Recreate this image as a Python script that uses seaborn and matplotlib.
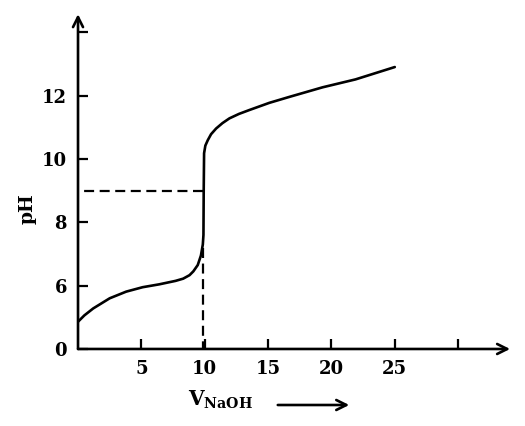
import matplotlib
matplotlib.use("Agg")
import matplotlib.pyplot as plt
import seaborn as sns

# titration curve (axis is broken: "0" sits where pH 4 would be)
v_naoh = [0, 0.5, 1.2, 2.5, 3.8, 5.1, 6.4, 7.7, 8.3, 8.8, 9.1, 9.45, 9.7, 9.85,
          9.9, 9.92, 9.95, 10.05, 10.24, 10.5, 10.9, 11.4, 11.95, 12.7, 13.5,
          15.1, 16.7, 19.3, 21.9, 25]
ph = [4.86, 5.06, 5.28, 5.6, 5.81, 5.95, 6.04, 6.15, 6.22, 6.33, 6.45, 6.65,
      6.95, 7.3, 7.6, 9.0, 10.18, 10.42, 10.59, 10.78, 10.96, 11.13, 11.28,
      11.42, 11.54, 11.77, 11.96, 12.26, 12.51, 12.9]

eq_volume = 9.9
eq_ph_mark = 9.0
eq_ph_foot = 7.2

x_ticks = [5, 10, 15, 20, 25, 30]
x_ticklabels = ['5', '10', '15', '20', '25', '']
y_ticks = [4, 6, 8, 10, 12, 14]
y_ticklabels = ['0', '6', '8', '10', '12', '']

sns.set_theme(style='white')
plt.rcParams['font.family'] = ['DejaVu Serif']
plt.rcParams['font.weight'] = 'bold'
plt.rcParams['mathtext.fontset'] = 'dejavuserif'
plt.rcParams['text.color'] = 'black'
plt.rcParams['axes.labelcolor'] = 'black'
plt.rcParams['xtick.color'] = 'black'
plt.rcParams['ytick.color'] = 'black'

fig = plt.figure(figsize=(5.25, 4.26), dpi=100)
ax = fig.add_axes([0.1486, 0.1808, 0.823, 0.786])

sns.lineplot(x=v_naoh, y=ph, sort=False, estimator=None, color='black',
             linewidth=1.9, ax=ax)

# dashed guide lines, drawn from the curve outwards so a dash touches it
ax.plot([eq_volume, 0], [eq_ph_mark, eq_ph_mark], color='black', lw=1.6,
        dashes=(4.5, 2.5))
ax.plot([eq_volume, eq_volume], [eq_ph_foot, 4], color='black', lw=1.6,
        dashes=(4.5, 2.5))

ax.set_xlim(0, 34.1)
ax.set_ylim(4, 14.57)
ax.set_xticks(x_ticks)
ax.set_xticklabels(x_ticklabels, fontweight='bold')
ax.set_yticks(y_ticks)
ax.set_yticklabels(y_ticklabels, fontweight='bold')
ax.tick_params(direction='in', length=7, width=1.6, color='black',
               labelcolor='black', labelsize=13, pad=8, bottom=True, left=True)

for s in ax.spines.values():
    s.set_visible(False)

# axes with arrow heads
arrow = dict(arrowstyle='->', lw=1.9, color='black', mutation_scale=18,
             shrinkA=0, shrinkB=0)
ax.annotate('', xy=(1, 0), xytext=(0, 0), xycoords='axes fraction',
            textcoords='axes fraction', arrowprops=arrow, annotation_clip=False)
ax.annotate('', xy=(0, 1), xytext=(0, 0), xycoords='axes fraction',
            textcoords='axes fraction', arrowprops=arrow, annotation_clip=False)

ax.set_ylabel('pH', fontsize=13.5, fontweight='bold', color='black')
ax.yaxis.set_label_coords(-0.095, 0.42)
ax.set_xlabel(r'$\mathbf{V_{NaOH}}$', fontsize=14.5, color='black')
ax.xaxis.set_label_coords(0.33, -0.12)

# arrow next to the x label
fig.add_artist(matplotlib.patches.FancyArrowPatch(
    (275 / 525, 1 - 405 / 426), (352 / 525, 1 - 405 / 426),
    transform=fig.transFigure, arrowstyle='->', lw=1.9, color='black',
    mutation_scale=18))

fig.savefig('out.png', dpi=100)
